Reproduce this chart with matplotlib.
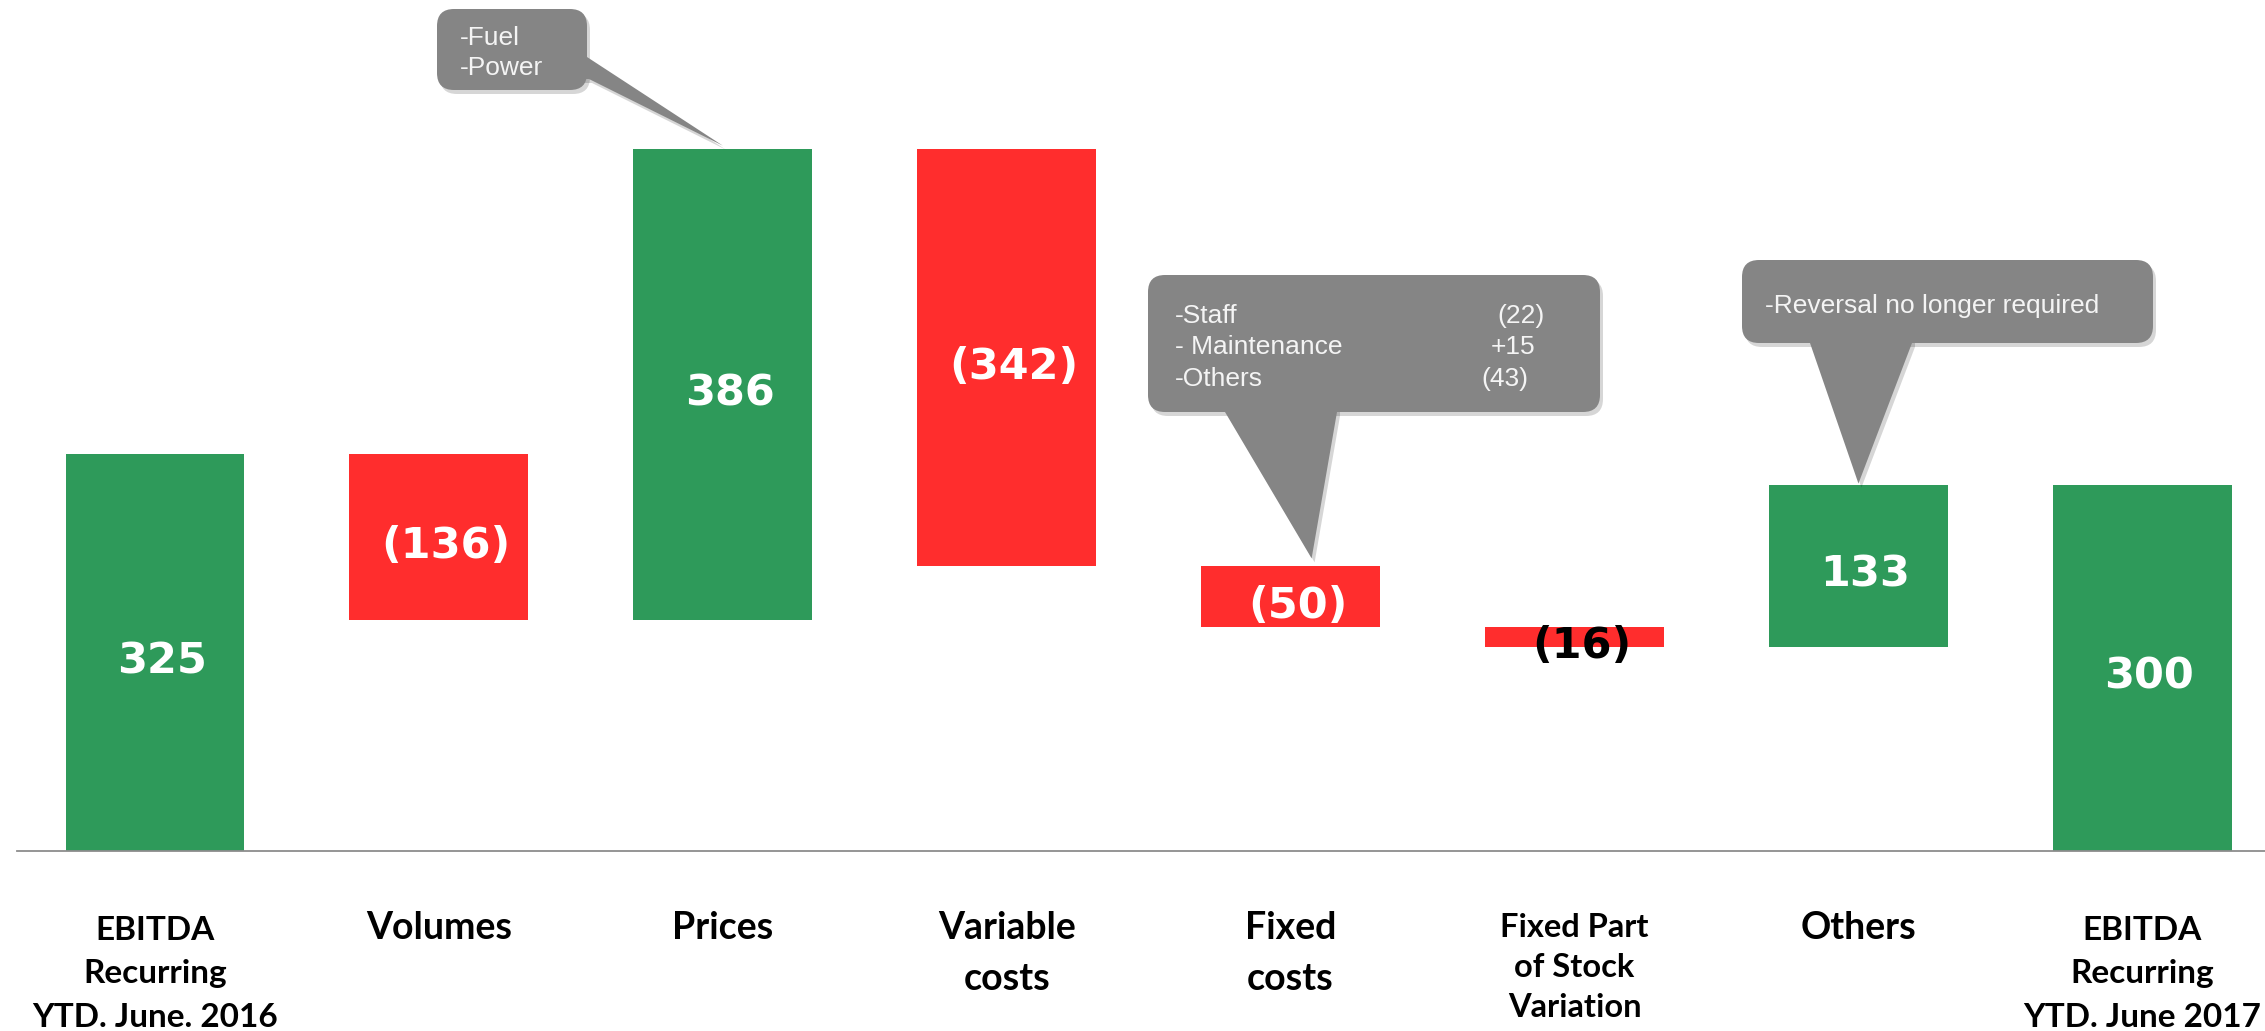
import numpy as np
import matplotlib
matplotlib.use("Agg")
import matplotlib.pyplot as plt
from matplotlib.patches import FancyBboxPatch, Polygon
from matplotlib.transforms import IdentityTransform

categories = [
    "EBITDA\nRecurring\nYTD. June. 2016",
    "Volumes",
    "Prices",
    "Variable\ncosts",
    "Fixed\ncosts",
    "Fixed Part\nof Stock\nVariation",
    "Others",
    "EBITDA\nRecurring\nYTD. June 2017",
]
values = [325, -136, 386, -342, -50, -16, 133, 300]
is_total = [True, False, False, False, False, False, False, True]
value_labels = ["325", "(136)", "386", "(342)", "(50)", "(16)", "133", "300"]

callout_prices = ["-Fuel", "-Power"]
callout_fixed = ["-Staff", "- Maintenance", "-Others"]
callout_fixed_amounts = ["(22)", "+15", "(43)"]
callout_others = ["-Reversal no longer required"]

GREEN = "#2E9A5A"
RED = "#FF2D2D"
BOX = "#858585"
BOX_TEXT = "#F4F4F4"

W, H = 2265, 1031
fig = plt.figure(figsize=(W / 100, H / 100), dpi=100)
ax = fig.add_axes([17 / W, 180 / H, 1 - 17 / W, 1 - 180 / H])

# waterfall bottoms
bottoms = []
running = 0
for v, tot in zip(values, is_total):
    if tot:
        bottoms.append(0)
        running = v
    elif v >= 0:
        bottoms.append(running)
        running += v
    else:
        running += v
        bottoms.append(running)
heights = np.abs(values)
colors = [GREEN if (t or v > 0) else RED for v, t in zip(values, is_total)]
x = np.arange(len(values))

ax.bar(x, heights, bottom=bottoms, width=0.63, color=colors, zorder=2)
ax.set_xlim(-0.486, 7.432)
ax.set_ylim(0, 696.7)

for xi, b, h, lab in zip(x, bottoms, heights, value_labels):
    col = "black" if lab == "(16)" else "white"
    ax.annotate(lab, (xi, b + h / 2), xytext=(5, -6.5), textcoords="offset points",
                ha="center", va="center", fontsize=31, fontweight="bold",
                color=col, family="DejaVu Sans", zorder=6)

# category labels under the axis: (size, drop in points, line spacing)
label_style = {0: (24, 47, 1.59), 5: (23.5, 44.5, 1.46), 7: (24, 47, 1.59)}
for xi, cat in zip(x, categories):
    size, drop, ls = label_style.get(xi, (27, 43, 1.6))
    ax.annotate(cat, (xi, 0), xytext=(0, -drop), textcoords="offset points",
                ha="center", va="top", fontsize=size, fontweight="bold",
                family=["Lato", "DejaVu Sans"], linespacing=ls,
                annotation_clip=False)

ax.set_xticks([])
ax.set_yticks([])
for s in ["left", "top", "right"]:
    ax.spines[s].set_visible(False)
ax.spines["bottom"].set_color("#8C8C8C")
ax.spines["bottom"].set_linewidth(1.3)

# callouts drawn in pixel space (y measured from top of image)
ident = IdentityTransform()


def flip(p):
    return (p[0], H - p[1])


def callout(box, before, after, tip, lines, text_xy, size=19, amounts=None):
    left, top, right, bottom = box
    for dx, dy, col, a in [(3, -4, "black", 0.16), (0, 0, BOX, 1.0)]:
        z = 3 if a < 1 else 4
        rect = FancyBboxPatch((left + dx, H - bottom + dy), right - left, bottom - top,
                              boxstyle="round,pad=0,rounding_size=17",
                              transform=ident, facecolor=col, edgecolor="none",
                              alpha=a, zorder=z)
        fig.add_artist(rect)
        pts = [flip(p) for p in before] + [tip] + [flip(p) for p in after]
        pts = [(px + dx, py + dy) for px, py in pts]
        fig.add_artist(Polygon(pts, closed=True, transform=ident, facecolor=col,
                               edgecolor="none", alpha=a, zorder=z))
    tx, ty0, step = text_xy
    fam = ["Liberation Sans", "DejaVu Sans"]
    for i, line in enumerate(lines):
        fig.text(tx, H - (ty0 + i * step), line, transform=ident, ha="left",
                 va="baseline", fontsize=size, color=BOX_TEXT, family=fam, zorder=5)
    if amounts:
        for i, (rx, amt) in enumerate(amounts):
            fig.text(rx, H - (ty0 + i * step), amt, transform=ident, ha="right",
                     va="baseline", fontsize=size, color=BOX_TEXT, family=fam, zorder=5)


def tip_at(i, dx_px=0, dy_px=0):
    top = bottoms[i] + heights[i]
    px, py = ax.transData.transform((x[i], top))
    return (px + dx_px, py + dy_px)


callout((437, 9, 587, 90),
        [(570, 57), (587, 57)], [(589, 79), (570, 79)],
        tip_at(2, 0, 3), callout_prices, (460, 45, 30))

callout((1148, 275, 1600, 412),
        [(1225, 400), (1225, 412)], [(1337, 412), (1337, 400)],
        tip_at(4, 21, 8), callout_fixed, (1175, 323, 31.5),
        amounts=list(zip([1545, 1535, 1528], callout_fixed_amounts)))

callout((1742, 260, 2153, 343),
        [(1810, 330), (1810, 343)], [(1912, 343), (1912, 330)],
        tip_at(6, 0, 1), callout_others, (1765, 313, 30))

fig.savefig("out.png", dpi=100)
